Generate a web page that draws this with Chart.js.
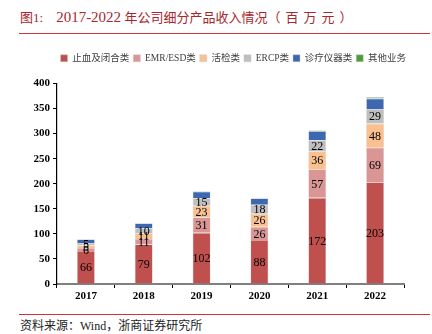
<!DOCTYPE html>
<html>
<head>
<meta charset="utf-8">
<script src="https://cdn.jsdelivr.net/npm/chart.js@4"></script>
<style>
  body { margin: 0; background: #fff; width: 432px; height: 334px; position: relative; overflow: hidden; }
  .title { position: absolute; left: 20px; top: 7px; font: 13px "Liberation Serif", "Noto Sans CJK SC"; color: #a8262c; white-space: pre; }
  .title .num { font-size: 15px; }
  .title .paren { letter-spacing: 5px; }
  .rule { position: absolute; left: 19px; width: 411px; height: 1px; background: #d0323a; }
  .source { position: absolute; left: 20px; top: 316px; font: 12px "Liberation Serif", "Noto Sans CJK SC"; color: #222; }
  #wrap { position: absolute; left: 0; top: 40px; width: 432px; height: 265px; }
</style>
</head>
<body>
<div class="title">图1:    <span class="num">2017-2022</span> 年公司细分产品收入情况<span class="paren">（百万元）</span></div>
<div class="rule" style="top:33px"></div>
<div id="wrap"><canvas id="c"></canvas></div>
<div class="rule" style="top:314px"></div>
<div class="source">资料来源：Wind，浙商证券研究所</div>
<script>
const years = ['2017', '2018', '2019', '2020', '2021', '2022'];
const seriesNames = ['止血及闭合类', 'EMR/ESD类', '活检类', 'ERCP类', '诊疗仪器类', '其他业务'];
const hemostasis = [66, 79, 102, 88, 172, 203];
const emrEsd = [6, 11, 31, 26, 57, 69];
const biopsy = [5, 11, 23, 26, 36, 48];
const ercp = [5, 10, 15, 18, 22, 29];
const instruments = [7, 10, 13, 13, 18, 21];
const others = [1, 1, 1, 1, 1, 3];
const yTicks = [0, 50, 100, 150, 200, 250, 300, 350, 400];

const colors = ['#c0504d', '#d99694', '#fac090', '#bfbfbf', '#3d67b1', '#4f9a3c'];
const values = [hemostasis, emrEsd, biopsy, ercp, instruments, others];
const serif = '"Liberation Serif", "Noto Sans CJK SC"';

// value labels in the middle of the first four segments
const segmentLabels = {
    id: 'segmentLabels',
    afterDatasetsDraw(chart) {
        const ctx = chart.ctx;
        ctx.save();
        ctx.font = '12px ' + serif;
        ctx.fillStyle = '#000';
        ctx.textAlign = 'center';
        ctx.textBaseline = 'middle';
        for (let d = 0; d < 4; d++) {
            const meta = chart.getDatasetMeta(d);
            meta.data.forEach((bar, i) => {
                const v = chart.data.datasets[d].data[i];
                ctx.fillText(String(v), bar.x, (bar.y + bar.base) / 2 + 1);
            });
        }
        ctx.restore();
    }
};

// empty axes only used to reserve space around the plot
const spacer = (pos, size) => ({
    type: pos === 'top' ? 'category' : 'linear',
    position: pos,
    display: true,
    afterFit: s => { if (pos === 'top') s.height = size; else s.width = size; },
    ticks: { display: false },
    grid: { display: false },
    border: { display: false }
});

new Chart(document.getElementById('c'), {
    type: 'bar',
    data: {
        labels: years,
        datasets: seriesNames.map((name, k) => ({
            label: name,
            data: values[k],
            backgroundColor: colors[k],
            borderColor: 'rgba(200,200,200,0.8)',
            borderWidth: 0.6,
            barPercentage: 0.31,
            categoryPercentage: 1
        }))
    },
    options: {
        responsive: true,
        maintainAspectRatio: false,
        animation: false,
        layout: { padding: { left: 0, right: 22, top: 9.5, bottom: 0 } },
        plugins: {
            legend: {
                position: 'top',
                align: 'end',
                labels: {
                    color: '#404040',
                    boxWidth: 7,
                    boxHeight: 7,
                    padding: 4,
                    font: { size: 9.5, family: serif }
                }
            },
            tooltip: { enabled: false }
        },
        scales: {
            x: {
                stacked: true,
                afterFit: s => { s.height = 21; },
                ticks: { color: '#000', font: { size: 11, weight: 'bold', family: serif }, padding: 2 },
                grid: { drawOnChartArea: false, offset: true, tickLength: 4, color: '#000' },
                border: { color: '#808080', width: 2 }
            },
            xTop: spacer('top', 10.5),
            y: {
                stacked: true,
                min: 0,
                max: 400,
                afterFit: s => { s.width = 57; },
                afterBuildTicks: s => { s.ticks = yTicks.map(v => ({ value: v })); },
                ticks: { color: '#000', font: { size: 11, weight: 'bold', family: serif }, padding: 3 },
                grid: { drawOnChartArea: false, tickLength: 4, color: '#000' },
                border: { color: '#000', width: 1.2 }
            },
            yRight: spacer('right', 6)
        }
    },
    plugins: [segmentLabels]
});
</script>
</body>
</html>
